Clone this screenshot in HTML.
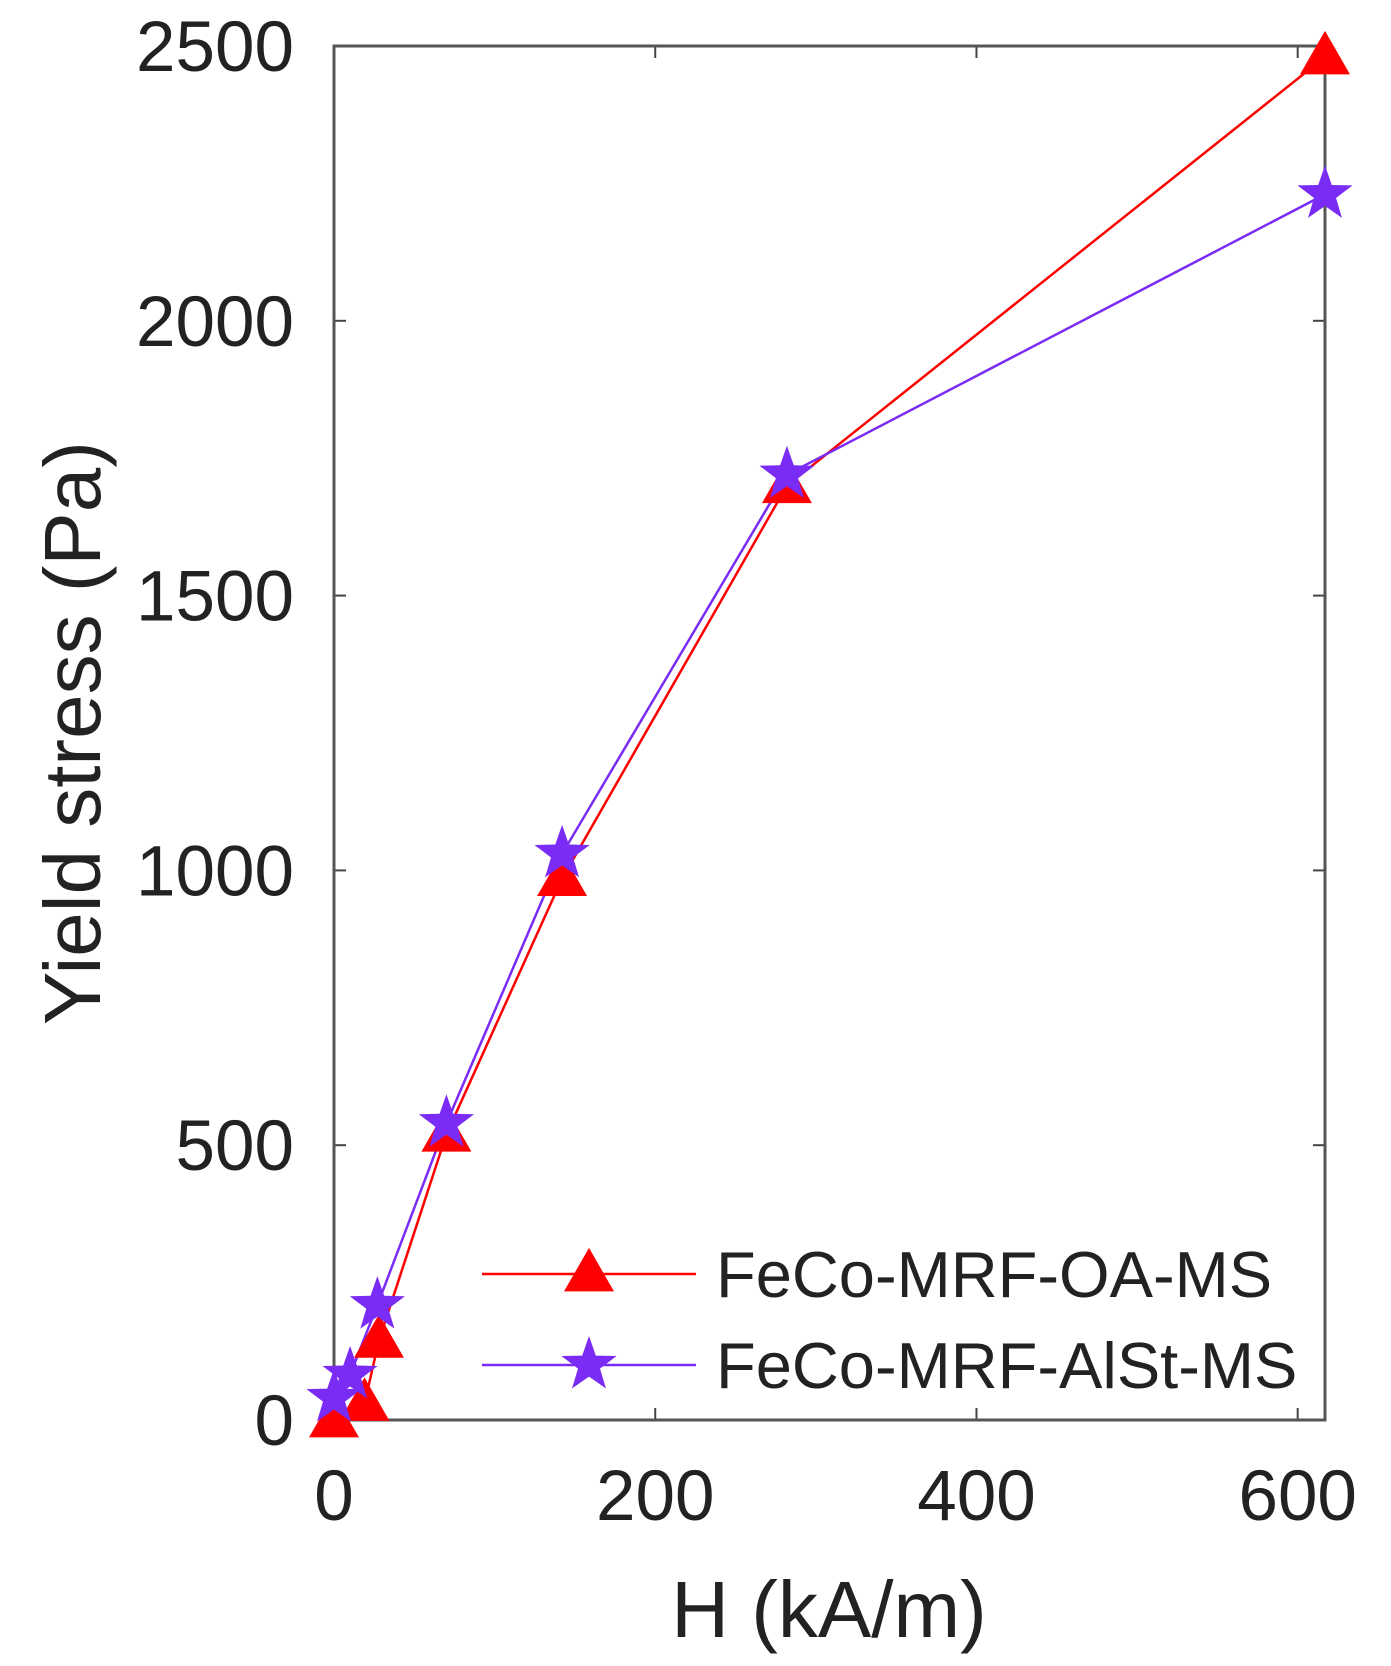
<!DOCTYPE html>
<html><head><meta charset="utf-8"><style>body{margin:0;background:#fff}svg{display:block}text{font-family:"Liberation Sans",sans-serif;fill:#222}</style></head>
<body>
<svg id="chart" width="1391" height="1666" viewBox="0 0 1391 1666">
<g id="axes"></g><g id="series"></g><g id="legend"></g>
</svg>
<script>
const xTicks=[0,200,400,600];
const yTicks=[0,500,1000,1500,2000,2500];
const xRed=[0,19,28,70,142,282,617];
const yRed=[0,30,145,520,985,1700,2480];
const xPur=[0,10,27,70,142,282,617];
const yPur=[40,82,209,540,1030,1720,2230];
const seriesNames=["FeCo-MRF-OA-MS","FeCo-MRF-AlSt-MS"];

const L=334,R=1325,T=46,B=1420,XMAX=617,YMAX=2500;
const sx=v=>L+v/XMAX*(R-L), sy=v=>B-v/YMAX*(B-T);
const NS="http://www.w3.org/2000/svg";
function mk(tag,attrs,parent){const e=document.createElementNS(NS,tag);for(const k in attrs)e.setAttribute(k,attrs[k]);parent.appendChild(e);return e;}
const ax=document.getElementById('axes'),sg=document.getElementById('series'),lg=document.getElementById('legend');

xTicks.forEach(t=>{
  const x=sx(t);
  const a=mk('line',{x1:x,x2:x,y1:B,y2:B-12,stroke:'#444','stroke-width':2},ax);
  
  
  const b=mk('line',{x1:x,x2:x,y1:T,y2:T+12,stroke:'#444','stroke-width':2},ax);
  
  
  const tx=mk('text',{x:x,y:1520,'text-anchor':'middle','font-size':71},ax);tx.textContent=t;
  
  
});
yTicks.forEach(t=>{
  const y=sy(t);
  const a=mk('line',{x1:L,x2:L+12,y1:y,y2:y,stroke:'#444','stroke-width':2},ax);
  
  
  const b=mk('line',{x1:R,x2:R-12,y1:y,y2:y,stroke:'#444','stroke-width':2},ax);
  
  
  const tx=mk('text',{x:294,y:y+25,'text-anchor':'end','font-size':71},ax);tx.textContent=t;
  
  
});
const frame=mk('rect',{x:L,y:T,width:R-L,height:B-T,fill:'none',stroke:'#555','stroke-width':3},ax);


const xt=mk('text',{x:829,y:1637,'text-anchor':'middle','font-size':80},ax);xt.textContent='H (kA/m)';


const yt=mk('text',{x:0,y:0,'text-anchor':'middle','font-size':80,transform:'translate(100,733) rotate(-90)'},ax);yt.textContent='Yield stress (Pa)';



function tri(cx,cy,s,col,p){const h=s*0.87;const e=mk('polygon',{points:`${cx},${cy-h*0.6} ${cx-s/2},${cy+h*0.4} ${cx+s/2},${cy+h*0.4}`,fill:col},p);return e;}
function star(cx,cy,r,col,p){let pts=[];for(let i=0;i<10;i++){const rr=i%2?r*0.4:r;const a=-Math.PI/2+i*Math.PI/5;pts.push((cx+rr*Math.cos(a)).toFixed(1)+','+(cy+rr*Math.sin(a)).toFixed(1));}return mk('polygon',{points:pts.join(' '),fill:col},p);}

const RED='#ff0000',PUR='#7a2cf5';
const lr=mk('polyline',{points:xRed.map((x,i)=>sx(x)+','+sy(yRed[i])).join(' '),fill:'none',stroke:RED,'stroke-width':2.5},sg);


const lp=mk('polyline',{points:xPur.map((x,i)=>sx(x)+','+sy(yPur[i])).join(' '),fill:'none',stroke:PUR,'stroke-width':2.5},sg);


xRed.forEach((x,i)=>{const m=tri(sx(x),sy(yRed[i]),50,RED,sg);
  
  });
xPur.forEach((x,i)=>{const m=star(sx(x),sy(yPur[i]),29,PUR,sg);
  
  });

[[RED,0],[PUR,1]].forEach(([c,i])=>{
  const y=[1274,1365][i];
  const l=mk('line',{x1:482,x2:696,y1:y,y2:y,stroke:c,'stroke-width':2.5},lg);
  
  
  const m=i===0?tri(589,y,50,c,lg):star(589,y,29,c,lg);
  
  
  const t=mk('text',{x:716,y:y+23,'font-size':65},lg);t.textContent=seriesNames[i];
  
  
});
</script>
</body></html>
